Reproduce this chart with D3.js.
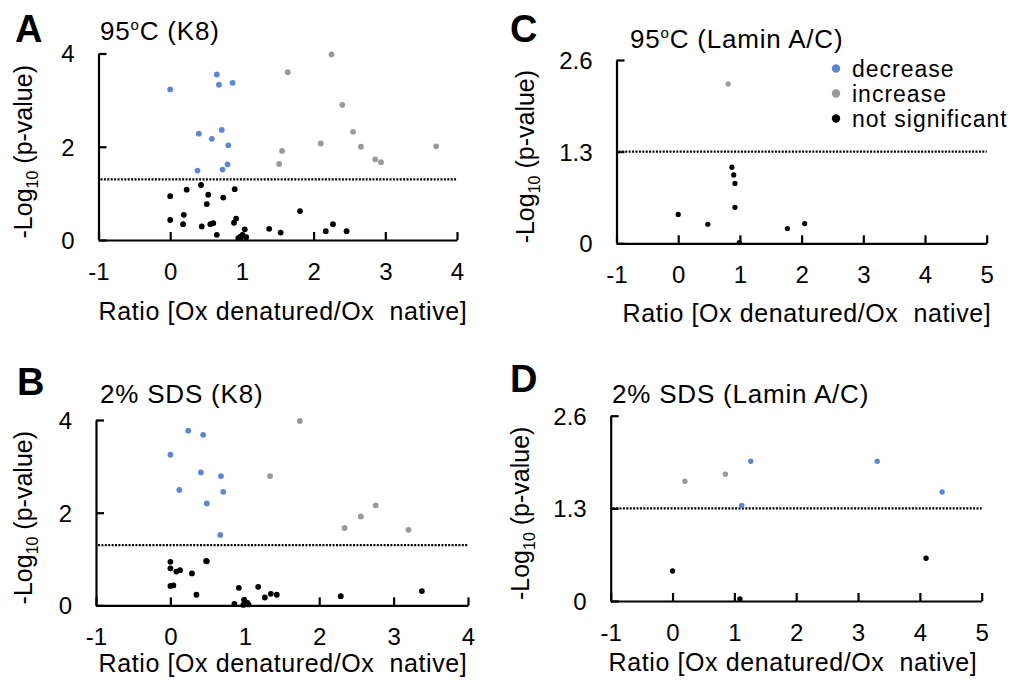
<!DOCTYPE html>
<html><head><meta charset="utf-8">
<script src="https://cdn.jsdelivr.net/npm/d3@7"></script>
<style>
body{margin:0;background:#fff;}
svg{display:block;font-family:"Liberation Sans",Arial,sans-serif;}
</style></head><body>
<svg id="chart" width="1031" height="680"></svg>
<script>
// ---- data ----
const xTicksK8 = [-1, 0, 1, 2, 3, 4];
const xTicksLamin = [-1, 0, 1, 2, 3, 4, 5];
const yTicksK8 = [0, 2, 4];
const yTicksLamin = [0, 1.3, 2.6];
const threshold = 1.3;
const legendLabels = ["decrease", "increase", "not significant"];

const aDecrease = [[0,3.23],[0.65,3.55],[0.68,3.33],[0.87,3.37],[0.40,2.28],[0.58,2.17],[0.72,2.36],[0.81,2.03],[0.38,1.49],[0.73,1.51],[0.80,1.62]];
const aIncrease = [[1.64,3.60],[2.25,3.98],[2.40,2.90],[2.55,2.32],[2.10,2.07],[2.66,2.00],[2.86,1.73],[2.94,1.67],[3.71,2.01],[1.56,1.91],[1.52,1.63]];
const aNotSig = [[0,0.94],[0.23,1.08],[0.43,1.18],[0.53,0.97],[0.51,0.77],[0.74,0.91],[0.90,1.09],[0,0.43],[0.19,0.54],[0.18,0.34],[0.44,0.29],[0.56,0.34],[0.60,0.36],[0.65,0.11],[0.92,0.46],[0.89,0.37],[1.04,0.23],[0.95,0.04],[0.98,0.07],[1.01,0.11],[1.06,0.06],[1.38,0.24],[1.54,0.16],[1.81,0.62],[2.17,0.19],[2.27,0.34],[2.46,0.19]];

const bDecrease = [[0,3.25],[0.24,3.77],[0.44,3.68],[0.41,2.87],[0.68,2.79],[0.12,2.49],[0.71,2.45],[0.49,2.20],[0.67,1.52]];
const bIncrease = [[1.34,2.79],[1.74,3.98],[2.76,2.16],[2.56,1.92],[2.34,1.67],[3.20,1.63]];
const bNotSig = [[0,0.94],[0,0.80],[0.08,0.73],[0.13,0.76],[0.29,0.69],[0.48,0.96],[0.49,0.95],[0,0.42],[0.04,0.43],[0.35,0.23],[0.92,0.38],[1.18,0.40],[1.27,0.17],[1.35,0.25],[1.43,0.23],[0.86,0.03],[0.99,0.12],[0.98,0.01],[1.03,0.06],[1.05,0.02],[2.29,0.20],[3.38,0.31]];

const cDecrease = [];
const cIncrease = [[0.81,2.26]];
const cNotSig = [[0.87,1.08],[0.90,0.97],[0.92,0.85],[0.92,0.51],[0,0.41],[0.48,0.27],[1.77,0.21],[2.05,0.28],[0.99,0.01]];

const dDecrease = [[1.265,1.96],[1.12,1.34],[3.31,1.96],[4.36,1.53]];
const dIncrease = [[0.20,1.68],[0.855,1.78]];
const dNotSig = [[0,0.42],[1.09,0.03],[4.10,0.60]];

// ---- styling / layout ----
const colors = {decrease:"#5f86d2", increase:"#999999", notsig:"#000000"};
const FONT = 25, TICKFONT = 24, TICKLEN = 8, AXW = 2.2;

const panels = [
  {letter:"A", title:["95","o","C (K8)"], xr:[98.5,457], yr:[240,53.5], xDom:[-1,4], yDom:[0,4], xt:xTicksK8, yt:yTicksK8,
   letterPos:[15,42], titlePos:[100,39.5], xTitleY:320, xTitleCx:283, yTitleX:32, r:2.9,
   dec:aDecrease, inc:aIncrease, ns:aNotSig},
  {letter:"B", title:["2% SDS (K8)"], xr:[96,468], yr:[605.4,420], xDom:[-1,4], yDom:[0,4], xt:xTicksK8, yt:yTicksK8,
   letterPos:[17,395], titlePos:[100,403], xTitleY:672, xTitleCx:283, yTitleX:32, r:2.9,
   dec:bDecrease, inc:bIncrease, ns:bNotSig},
  {letter:"C", title:["95","o","C (Lamin A/C)"], xr:[616.5,986.7], yr:[243.3,60], xDom:[-1,5], yDom:[0,2.6], xt:xTicksLamin, yt:yTicksLamin,
   letterPos:[510,42], titlePos:[630,48], xTitleY:322, xTitleCx:807, yTitleX:534, r:2.6,
   dec:cDecrease, inc:cIncrease, ns:cNotSig, legend:true},
  {letter:"D", title:["2% SDS (Lamin A/C)"], xr:[610.7,981.7], yr:[601,415.7], xDom:[-1,5], yDom:[0,2.6], xt:xTicksLamin, yt:yTicksLamin,
   letterPos:[510,392], titlePos:[612,403], xTitleY:671, xTitleCx:793, yTitleX:529, r:2.7,
   dec:dDecrease, inc:dIncrease, ns:dNotSig}
];

const svg = d3.select("#chart");

panels.forEach(p => {
  const x = d3.scaleLinear().domain(p.xDom).range(p.xr);
  const y = d3.scaleLinear().domain(p.yDom).range(p.yr);
  const g = svg.append("g");

  // x axis (inward ticks)
  const xa = g.append("g").attr("transform", `translate(0,${y(p.yDom[0])})`)
    .call(d3.axisBottom(x).tickValues(p.xt).tickSize(-TICKLEN).tickSizeOuter(0).tickFormat(d => String(d)));
  xa.selectAll("path,line").attr("stroke", "#000").attr("stroke-width", AXW);
  xa.selectAll("text").attr("y", 40).attr("dy", 0).attr("font-size", TICKFONT)
    .attr("font-family", "Liberation Sans, Arial, sans-serif").attr("fill", "#000");

  // y axis (inward ticks)
  const ya = g.append("g").attr("transform", `translate(${x(p.xDom[0])},0)`)
    .call(d3.axisLeft(y).tickValues(p.yt).tickSize(-TICKLEN).tickSizeOuter(0).tickPadding(24)
      .tickFormat(d => Number.isInteger(d) ? String(d) : d.toFixed(1)));
  ya.selectAll("path,line").attr("stroke", "#000").attr("stroke-width", AXW);
  ya.selectAll("text").attr("font-size", TICKFONT).attr("dy", "0.35em")
    .attr("font-family", "Liberation Sans, Arial, sans-serif").attr("fill", "#000");

  // panel letter
  g.append("text").attr("x", p.letterPos[0]).attr("y", p.letterPos[1])
    .attr("font-size", 38).attr("font-weight", "bold").text(p.letter);

  // panel title
  const t = g.append("text").attr("x", p.titlePos[0]).attr("y", p.titlePos[1])
    .attr("font-size", 26).attr("letter-spacing", 0.8);
  if (p.title.length === 3) {
    t.append("tspan").text(p.title[0]);
    t.append("tspan").attr("font-size", 15).attr("dy", -10).text(p.title[1]);
    t.append("tspan").attr("dy", 10).text(p.title[2]);
  } else {
    t.text(p.title[0]);
  }

  // threshold line
  g.append("line").attr("x1", x(p.xDom[0]) + 2).attr("x2", x(p.xDom[1]))
    .attr("y1", y(threshold)).attr("y2", y(threshold))
    .attr("stroke", "#000").attr("stroke-width", 2.2).attr("stroke-dasharray", "2,1.4");

  // axis titles
  g.append("text").attr("x", p.xTitleCx).attr("y", p.xTitleY).attr("text-anchor", "middle")
    .attr("font-size", FONT).attr("letter-spacing", 0.6)
    .text("Ratio [Ox denatured/Ox\u00a0 native]");

  const cy = (p.yr[0] + p.yr[1]) / 2 + 5;
  const ytl = g.append("text").attr("transform", `translate(${p.yTitleX},${cy}) rotate(-90)`)
    .attr("text-anchor", "middle").attr("font-size", FONT);
  ytl.append("tspan").text("-Log");
  ytl.append("tspan").attr("font-size", 16).attr("dy", 6).text("10");
  ytl.append("tspan").attr("dy", -6).text("\u00a0(p-value)");

  // points
  const groups = [[p.ns, colors.notsig], [p.inc, colors.increase], [p.dec, colors.decrease]];
  groups.forEach(([arr, col]) => {
    g.append("g").selectAll("circle").data(arr).join("circle")
      .attr("cx", d => x(d[0])).attr("cy", d => y(d[1])).attr("r", p.r).attr("fill", col);
  });

  if (p.legend) {
    const lc = [colors.decrease, colors.increase, colors.notsig];
    legendLabels.forEach((lab, i) => {
      g.append("circle").attr("cx", 836).attr("cy", 68.5 + i * 25).attr("r", 4.2).attr("fill", lc[i]);
      g.append("text").attr("x", 852).attr("y", 77 + i * 25).attr("font-size", 23)
        .attr("letter-spacing", 1.0).text(lab);
    });
  }
});
</script>
</body></html>
